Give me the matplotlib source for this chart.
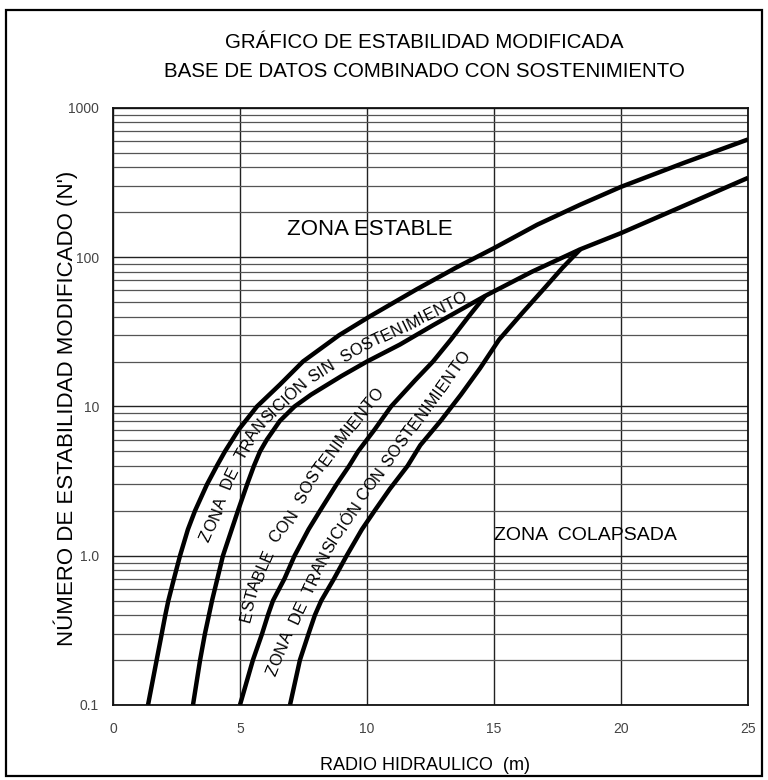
import matplotlib
matplotlib.use("Agg")
import numpy as np
import matplotlib.pyplot as plt
from matplotlib.ticker import LogLocator, FixedLocator, NullFormatter, NullLocator
from matplotlib.patches import Rectangle
from matplotlib.font_manager import FontProperties
from matplotlib.transforms import IdentityTransform

# Curvas del grafico de estabilidad (radio hidraulico m, N')
# limite zona estable
xA = [1.38, 1.72, 1.92, 2.06, 2.18, 2.40, 2.64, 2.95, 3.23, 3.70, 4.09, 4.41, 4.95,
      5.67, 6.57, 7.48, 8.9, 10.1, 11.96, 13.5, 15.0, 16.7, 18.4, 20.0, 22.5, 25.0]
nA = [0.1, 0.2, 0.3, 0.4, 0.5, 0.7, 1.0, 1.5, 2, 3, 4, 5, 7,
      10, 14, 20, 30, 40, 61, 85, 115, 165, 225, 296, 430, 615]
# limite transicion sin sostenimiento / estable con sostenimiento
xB = [3.15, 3.43, 3.62, 3.90, 4.33, 4.92, 5.28, 5.55, 5.79, 6.06, 6.57, 7.15, 7.8,
      9.0, 10.0, 11.3, 12.6, 14.65, 16.5, 18.4, 20.0, 22.5, 25.0]
nB = [0.1, 0.2, 0.3, 0.5, 1.0, 2.0, 3.0, 4.0, 5.0, 6.0, 8.0, 10, 12,
      16, 20, 26, 35, 55, 80, 113, 145, 222, 340]
# limite estable con sostenimiento / transicion con sostenimiento
xC = [5.0, 5.51, 5.87, 6.1, 6.30, 6.75, 7.15, 7.7, 8.15, 8.8, 9.3, 9.65, 10.3,
      10.95, 11.9, 12.6, 13.3, 14.0, 14.65]
nC = [0.1, 0.2, 0.3, 0.4, 0.5, 0.7, 1.0, 1.5, 2.0, 3.0, 4.0, 5.0, 7.0,
      10, 15, 20, 28, 40, 55]
# limite zona colapsada
xD = [6.97, 7.36, 7.7, 7.95, 8.2, 8.7, 9.2, 9.8, 10.3, 10.9, 11.6, 12.1, 12.9,
      13.7, 14.45, 15.2, 16.1, 16.94, 17.7, 18.4]
nD = [0.1, 0.2, 0.3, 0.4, 0.5, 0.7, 1.0, 1.5, 2.0, 2.8, 4.0, 5.5, 8.0,
      12, 18, 28, 42, 60.7, 85, 113]

xticks = [0, 5, 10, 15, 20, 25]
yticks = [0.1, 1, 10, 100, 1000]
ytick_labels = ["0.1", "1.0", "10", "100", "1000"]

# rotulos curvos: texto y linea guia (x, N') por la que corre
rot_texts = [
    ("ZONA  DE  TRANSICIÓN SIN  SOSTENIMIENTO",
     [3.5, 3.95, 4.6, 5.62, 7.55, 9.5, 11.5, 14.0],
     [1.2, 1.8, 3.5, 7.3, 15, 24, 35, 57]),
    ("ESTABLE  CON  SOSTENIMIENTO",
     [5.15, 5.55, 6.3, 6.9, 7.8, 9.0, 10.5],
     [0.36, 0.65, 1.3, 1.75, 3.3, 6.3, 13]),
    ("ZONA  DE  TRANSICIÓN CON SOSTENIMIENTO",
     [6.25, 6.6, 7.35, 8.5, 10.0, 12.1, 13.8],
     [0.17, 0.24, 0.45, 1.18, 2.85, 8.8, 22]),
]

SANS = ["Liberation Sans", "DejaVu Sans"]
NARROW = ["Liberation Sans Narrow", "Liberation Sans", "DejaVu Sans"]


def text_on_path(ax, gx, gn, text, size=11, track=0.0):
    """Coloca el texto letra a letra siguiendo la guia, centrado en ella."""
    fig = ax.figure
    r = fig.canvas.get_renderer()
    prop = FontProperties(family=SANS, size=size)
    pts = ax.transData.transform(np.column_stack([gx, gn]))
    cum = np.concatenate([[0], np.cumsum(np.hypot(*np.diff(pts, axis=0).T))])

    def width(s):
        return r.get_text_width_height_descent(s, prop, ismath=False)[0]

    base = width("xx")
    adv = [width("x" + ch + "x") - base + track for ch in text]
    s = (cum[-1] - sum(adv)) / 2
    half_cap = 0.36 * size * fig.dpi / 72

    def at(d):
        return np.array([np.interp(d, cum, pts[:, 0]), np.interp(d, cum, pts[:, 1])])

    for ch, a in zip(text, adv):
        mid = s + a / 2
        d = at(mid + 5) - at(mid - 5)
        ang = np.arctan2(d[1], d[0])
        p = at(mid) - half_cap * np.array([-np.sin(ang), np.cos(ang)])
        if ch.strip():
            ax.text(p[0], p[1], ch, fontproperties=prop, rotation=np.degrees(ang),
                    rotation_mode="anchor", ha="center", va="baseline",
                    transform=IdentityTransform(), zorder=4)
        s += a


fig = plt.figure(figsize=(7.68, 7.80), dpi=100)
fig.patches.append(Rectangle((0.008, 0.005), 0.984, 0.982, transform=fig.transFigure,
                             fill=False, lw=1.6, color="black"))

ax = fig.add_axes([0.1471, 0.0962, 0.8268, 0.7654])
ax.set_yscale("log")
ax.set_xlim(0, 25)
ax.set_ylim(0.1, 1000)

ax.xaxis.set_major_locator(FixedLocator(xticks))
ax.xaxis.set_minor_locator(NullLocator())
ax.yaxis.set_major_locator(FixedLocator(yticks))
ax.yaxis.set_minor_locator(LogLocator(base=10, subs=range(2, 10)))
ax.yaxis.set_minor_formatter(NullFormatter())
ax.set_xticklabels([str(v) for v in xticks], family=NARROW, fontsize=10, color="#444444")
ax.set_yticklabels(ytick_labels, family=NARROW, fontsize=10, color="#444444")
ax.tick_params(which="both", length=0)
ax.tick_params(axis="x", pad=12)
ax.tick_params(axis="y", pad=10)

ax.grid(which="major", axis="both", color="#222222", lw=1.0)
ax.grid(which="minor", axis="y", color="#555555", lw=0.9)
for s in ax.spines.values():
    s.set_linewidth(1.3)
    s.set_color("#111111")

for xs, ns in [(xA, nA), (xB, nB), (xC, nC), (xD, nD)]:
    ax.plot(xs, ns, color="black", lw=3.2, solid_capstyle="butt", zorder=3)

# rotulos de las zonas
ax.text(10.1, 153, "ZONA ESTABLE", family=SANS, fontsize=16, ha="center", va="center")
ax.text(18.6, 1.36, "ZONA  COLAPSADA", family=SANS, fontsize=14, ha="center", va="center")
for txt, gx, gn in rot_texts:
    text_on_path(ax, gx, gn, txt, size=11.8, track=0.3)

fig.text(0.553, 0.946, "GRÁFICO DE ESTABILIDAD MODIFICADA", family=SANS, fontsize=14.8,
         ha="center", va="center")
fig.text(0.553, 0.908, "BASE DE DATOS COMBINADO CON SOSTENIMIENTO", family=SANS,
         fontsize=14.8, ha="center", va="center")
fig.text(0.553, 0.018, "RADIO HIDRAULICO  (m)", family=SANS, fontsize=13,
         ha="center", va="center")
fig.text(0.085, 0.477, "NÚMERO DE ESTABILIDAD MODIFICADO (N')", family=SANS, fontsize=16,
         ha="center", va="center", rotation=90)

fig.savefig("out.png", dpi=100)
